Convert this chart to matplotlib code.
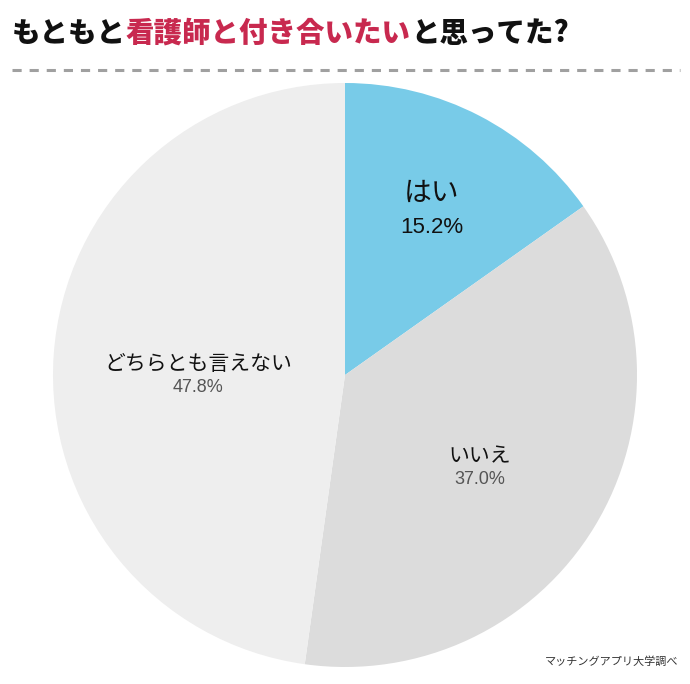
import matplotlib.pyplot as plt
from matplotlib.lines import Line2D

plt.rcParams['font.family'] = ['Noto Sans CJK JP', 'DejaVu Sans']

labels = ["はい", "いいえ", "どちらとも言えない"]
values = [15.2, 37.0, 47.8]
colors = ["#78cbe8", "#dcdcdc", "#eeeeee"]
pct_colors = ["#111111", "#555555", "#555555"]
title_parts = [("もともと", "#111111"), ("看護師と付き合いたい", "#c8294f"), ("と思ってた?", "#111111")]
source = "マッチングアプリ大学調べ"

W, H = 690, 684
fig = plt.figure(figsize=(W / 100, H / 100), dpi=100)
fig.patch.set_facecolor("white")

# pie axes: centre (345, 375) px from top, radius 292 px
cx, cy, r = 345, 375, 292
ax = fig.add_axes([(cx - r) / W, (H - cy - r) / H, 2 * r / W, 2 * r / H])
ax.pie(values, colors=colors, startangle=90, counterclock=False,
       radius=1, wedgeprops=dict(linewidth=0))
ax.set_xlim(-1, 1)
ax.set_ylim(-1, 1)
ax.set_aspect("equal")
ax.axis("off")

# label positions (px from top-left)
lab_pos = [(432, 193), (480, 456), (198, 364)]
lab_size = [20, 15, 15]
pct_size = [16, 13, 13]
pct_gap = [35, 23, 23]
for lab, v, (px, py), ls, ps, pc, g in zip(labels, values, lab_pos, lab_size, pct_size, pct_colors, pct_gap):
    fig.text(px / W, 1 - py / H, lab, ha="center", va="center", fontsize=ls, color="#111111")
    fig.text(px / W, 1 - (py + g) / H, f"{v:.1f}%", ha="center", va="center",
             fontsize=ps, color=pc, family=["Liberation Sans"])

# title in coloured pieces
fig.canvas.draw()
renderer = fig.canvas.get_renderer()
x = 12 / W
for txt, col in title_parts:
    t = fig.text(x, 1 - 33 / H, txt, ha="left", va="center", fontsize=20.5,
                 fontweight="heavy", color=col)
    bb = t.get_window_extent(renderer)
    x += bb.width / W

# dashed separator
fig.add_artist(Line2D([12 / W, 680 / W], [1 - 70 / H, 1 - 70 / H], transform=fig.transFigure,
                      color="#a0a0a0", linewidth=2.2, linestyle=(0, (3, 2.6))))

fig.text(678 / W, 1 - 662 / H, source, ha="right", va="center", fontsize=8, color="#333333")

fig.savefig("out.png", dpi=100)
